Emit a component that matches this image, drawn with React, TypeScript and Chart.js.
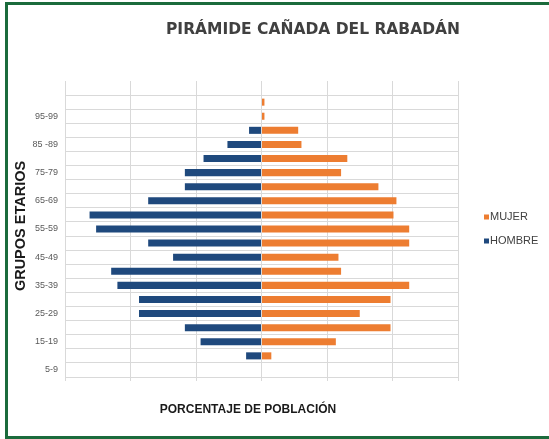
import React, { useEffect, useRef } from "react";
import { Chart, registerables } from "chart.js";

Chart.register(...registerables);

const TITLE = "PIRÁMIDE CAÑADA DEL RABADÁN";
const Y_TITLE = "GRUPOS ETARIOS";
const X_TITLE = "PORCENTAJE DE POBLACIÓN";

const categories = [
  "", "100+", "95-99", "90-94", "85 -89", "80-84", "75-79", "70-74", "65-69", "60-64",
  "55-59", "50-54", "45-49", "40-44", "35-39", "30-34", "25-29", "20-24", "15-19", "10-14", "5-9",
];

// percentages (one gridline = 2 %)
const mujer = [0, 0.09, 0.09, 1.12, 1.22, 2.62, 2.43, 3.57, 4.12, 4.03, 4.51, 4.51, 2.35, 2.43, 4.51, 3.94, 3.0, 3.94, 2.27, 0.3, 0];
const hombre = [0, 0, 0, 0.38, 1.04, 1.77, 2.34, 2.34, 3.46, 5.25, 5.05, 3.46, 2.7, 4.59, 4.4, 3.74, 3.74, 2.34, 1.86, 0.47, 0];

const xTicks = [-6, -4, -2, 0, 2, 4, 6];

const MUJER_COLOR = "#ED7D31";
const HOMBRE_COLOR = "#1F497D";
const GRID = "#d9d9d9";

const W = 549;
const H = 439;

const textPlugin = {
  id: "customTexts",
  afterDraw(chart: any) {
    const ctx = chart.ctx as CanvasRenderingContext2D;
    const area = chart.chartArea;
    ctx.save();
    // main title
    ctx.fillStyle = "#404040";
    ctx.font = "bold 15.5px 'DejaVu Sans'";
    ctx.textAlign = "center";
    ctx.textBaseline = "middle";
    ctx.fillText(TITLE, 313, 30);

    // x title
    ctx.fillStyle = "#1a1a1a";
    ctx.font = "bold 12px 'Liberation Sans', Arial";
    ctx.fillText(X_TITLE, 248, 410);

    // y title
    ctx.save();
    ctx.translate(21, (area.top + area.bottom) / 2 - 3);
    ctx.rotate(-Math.PI / 2);
    ctx.font = "bold 14.5px 'Liberation Sans', Arial";
    ctx.fillText(Y_TITLE, 0, 0);
    ctx.restore();

    // legend
    const items = chart.data.datasets.map((d: any) => ({ label: d.label, color: d.backgroundColor }));
    ctx.font = "11px 'Liberation Sans', Arial";
    ctx.textAlign = "left";
    ctx.textBaseline = "middle";
    items.forEach((it: any, i: number) => {
      const y = 217 + i * 24;
      ctx.fillStyle = it.color;
      ctx.fillRect(484, y - 2.5, 5, 5);
      ctx.fillStyle = "#404040";
      ctx.fillText(it.label, 490, y);
    });
    ctx.restore();
  },
};

export default function App() {
  const ref = useRef<HTMLCanvasElement | null>(null);

  useEffect(() => {
    if (!ref.current) return;
    const chart = new Chart(ref.current, {
      type: "bar",
      data: {
        labels: categories,
        datasets: [
          {
            label: "MUJER",
            data: mujer,
            backgroundColor: MUJER_COLOR,
            categoryPercentage: 0.5,
            barPercentage: 1,
          },
          {
            label: "HOMBRE",
            data: hombre.map((v) => -v),
            backgroundColor: HOMBRE_COLOR,
            categoryPercentage: 0.5,
            barPercentage: 1,
          },
        ],
      },
      options: {
        indexAxis: "y",
        responsive: false,
        animation: false,
        layout: { padding: { top: 81, right: W - 458, left: 0, bottom: H - 381 } },
        plugins: {
          legend: { display: false },
          title: { display: false },
          tooltip: { enabled: false },
        },
        scales: {
          x: {
            stacked: true,
            min: xTicks[0],
            max: xTicks[xTicks.length - 1],
            afterBuildTicks: (scale: any) => {
              scale.ticks = xTicks.map((v) => ({ value: v }));
            },
            afterFit: (scale: any) => {
              scale.height = 4;
            },
            ticks: { display: false },
            grid: { color: GRID, tickLength: 4, drawTicks: true },
            border: { color: GRID },
          },
          y: {
            stacked: true,
            afterFit: (scale: any) => {
              scale.width = 65;
            },
            ticks: {
              autoSkip: false,
              padding: 7,
              color: "#595959",
              font: { family: "'Liberation Sans', Arial", size: 9 },
              callback: (_v: any, i: number) => (i % 2 === 0 ? categories[i] : ""),
            },
            grid: {
              drawTicks: false,
              color: (ctx: any) => (ctx.index === 0 ? "rgba(0,0,0,0)" : GRID),
            },
            border: { display: false },
          },
        },
      },
      plugins: [textPlugin],
    });
    return () => chart.destroy();
  }, []);

  return (
    <div style={{ position: "fixed", left: 0, top: 0, width: W, height: H, background: "#fff" }}>
      <canvas ref={ref} width={W} height={H} style={{ display: "block" }} />
      <div
        style={{
          position: "absolute",
          left: 5,
          top: 2,
          right: 0,
          bottom: 0,
          boxSizing: "border-box",
          borderTop: "3px solid #1b6b3c",
          borderLeft: "3px solid #1b6b3c",
          borderBottom: "3px solid #1b6b3c",
          pointerEvents: "none",
        }}
      />
    </div>
  );
}
